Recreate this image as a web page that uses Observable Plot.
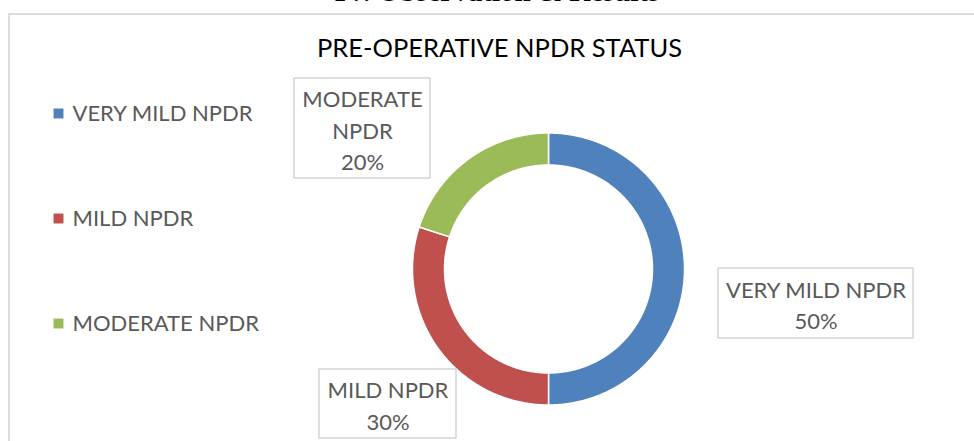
<!DOCTYPE html>
<html><head><meta charset="utf-8">
<script src="https://cdn.jsdelivr.net/npm/d3@7"></script>
<script src="https://cdn.jsdelivr.net/npm/@observablehq/plot@0.6"></script>
<style>
body{margin:0;background:#fff;}
#wrap{position:relative;width:974px;height:441px;overflow:hidden;background:#fff;}
#hdr{position:absolute;left:0;width:994px;text-align:center;top:-25px;line-height:29px;font:bold 29px "Liberation Serif";color:#000;}
#box{position:absolute;left:8px;top:13px;width:1000px;height:500px;border:2px solid #dcdcdc;}
#chart{position:absolute;left:0;top:0;}
</style></head>
<body><div id="wrap"><div id="hdr">IV. Observation &amp; Results</div><div id="box"></div><div id="chart"></div></div>
<script>
// ---- data ----
const categories = ["VERY MILD NPDR", "MILD NPDR", "MODERATE NPDR"];
const percents = [50, 30, 20];
const colors = ["#4F81BD", "#C0504D", "#9BBB59"];
const chartTitle = "PRE-OPERATIVE NPDR STATUS";

// ---- layout (pixels) ----
const W = 974, H = 441;
const donut = {cx: 548, cy: 268.5, r0: 104, r1: 136};
const labelBoxes = [
  {cx: 815.5, cy: 303, w: 195, h: 70, wrap: false},
  {cx: 387.5, cy: 403.5, w: 137, h: 69, wrap: false},
  {cx: 362, cy: 128, w: 136, h: 100, wrap: true}
];
const legendLayout = {xSq: 58, xText: 72, y0: 113, step: 105};
const FONT = "Lato, 'Open Sans', sans-serif";

const rows = categories.map((c, i) => ({cat: c, value: percents[i], i}));
const arcs = d3.pie().sort(null).value(d => d.value).startAngle(0).endAngle(2 * Math.PI)(rows);

// polygon points for each donut segment, derived from the pie angles
const segPts = [];
for (const a of arcs) {
  const n = Math.max(2, Math.ceil((a.endAngle - a.startAngle) / (Math.PI / 360)));
  for (let k = 0; k <= n; k++) {
    const t = a.startAngle + (a.endAngle - a.startAngle) * k / n;
    segPts.push({cat: a.data.cat, x: donut.cx + donut.r1 * Math.sin(t), y: donut.cy - donut.r1 * Math.cos(t)});
  }
  for (let k = n; k >= 0; k--) {
    const t = a.startAngle + (a.endAngle - a.startAngle) * k / n;
    segPts.push({cat: a.data.cat, x: donut.cx + donut.r0 * Math.sin(t), y: donut.cy - donut.r0 * Math.cos(t)});
  }
}

const labels = rows.map((d, i) => {
  const b = labelBoxes[i];
  const name = b.wrap ? d.cat.replace(" ", "\n") : d.cat;
  return {cat: d.cat, text: name + "\n" + d.value + "%", x1: b.cx - b.w / 2, x2: b.cx + b.w / 2, y1: b.cy - b.h / 2, y2: b.cy + b.h / 2, cx: b.cx, cy: b.cy};
});
const legend = rows.map((d, i) => ({cat: d.cat, y: legendLayout.y0 + i * legendLayout.step}));

const plot = Plot.plot({
  width: W, height: H,
  margin: 0,
  style: {background: "transparent", fontFamily: FONT, overflow: "visible"},
  x: {domain: [0, W], range: [0, W], axis: null},
  y: {domain: [0, H], range: [0, H], axis: null},
  color: {domain: categories, range: colors},
  marks: [
    Plot.line(segPts, {x: "x", y: "y", z: "cat", fill: "cat", stroke: "white", strokeWidth: 1.5, curve: "linear-closed"}),
    Plot.rect(labels, {x1: "x1", x2: "x2", y1: "y1", y2: "y2", fill: "white", stroke: "#bfbfbf", strokeWidth: 1}),
    Plot.text(labels, {x: "cx", y: "cy", text: "text", fill: "#595959", fontSize: 22, lineHeight: 1.42, lineAnchor: "middle", textAnchor: "middle"}),
    Plot.dot(legend, {x: () => legendLayout.xSq, y: "y", symbol: "square", r: 5.6, fill: "cat", stroke: null}),
    Plot.text(legend, {x: () => legendLayout.xText, y: "y", text: "cat", fill: "#595959", fontSize: 22, textAnchor: "start"}),
    Plot.text([chartTitle], {x: () => 499, y: () => 48, text: d => d, fill: "#000", fontSize: 25.5, textAnchor: "middle"})
  ]
});
document.getElementById("chart").appendChild(plot);
</script>
</body></html>
